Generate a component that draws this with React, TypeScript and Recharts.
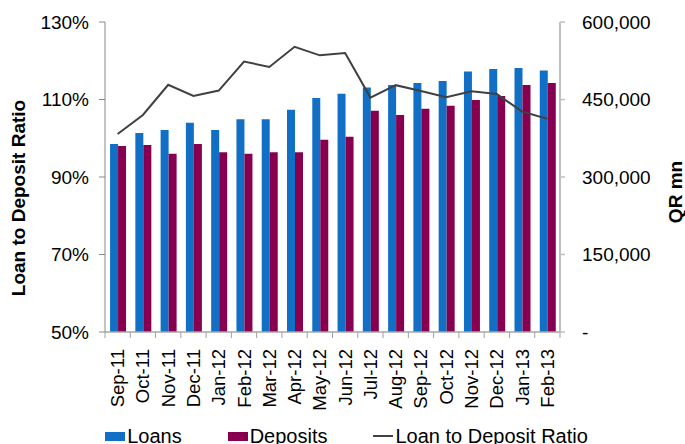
import React from "react";
import {
  ComposedChart,
  Bar,
  Line,
  XAxis,
  YAxis,
  Legend,
} from "recharts";

const months = [
  "Sep-11", "Oct-11", "Nov-11", "Dec-11", "Jan-12", "Feb-12", "Mar-12", "Apr-12", "May-12",
  "Jun-12", "Jul-12", "Aug-12", "Sep-12", "Oct-12", "Nov-12", "Dec-12", "Jan-13", "Feb-13",
];
// QR mn
const loans = [
  364000, 385000, 391000, 405000, 391000, 412000, 412000, 430000, 453000,
  461000, 473000, 478000, 482000, 486000, 504000, 509000, 511000, 506000,
];
const deposits = [
  360000, 362000, 345000, 364000, 348000, 345000, 348000, 348000, 372000,
  378000, 428000, 420000, 432000, 438000, 449000, 457000, 478000, 482000,
];
// %
const ratio = [
  101.1, 106.0, 113.8, 110.9, 112.3, 119.8, 118.4, 123.6, 121.4,
  122.0, 110.5, 113.7, 112.2, 110.6, 112.1, 111.4, 106.9, 105.0,
];
const ratioTicks = [50, 70, 90, 110, 130];
const amountTicks = [0, 150000, 300000, 450000, 600000];

const data = months.map((m, i) => ({
  month: m,
  loans: loans[i],
  deposits: deposits[i],
  ratio: ratio[i],
}));

const W = 685;
const H = 444;
const LEFT_W = 105;
const RIGHT_W = 125;
const PLOT_W = W - LEFT_W - RIGHT_W;
const FONT = "'Liberation Sans', Arial, sans-serif";

const BLUE = "#1170c6";
const MAROON = "#86004f";
const LINE = "#404040";

const XTick = (props: any) => {
  const { x, y, payload, index } = props;
  const step = PLOT_W / months.length;
  return (
    <g transform={`translate(${x},${y})`}>
      <line x1={-step / 2} x2={-step / 2} y1={0} y2={6} stroke="#a0a0a0" />
      {index === months.length - 1 && (
        <line x1={step / 2} x2={step / 2} y1={0} y2={6} stroke="#a0a0a0" />
      )}
      <text
        transform="translate(0,17) rotate(-90)"
        textAnchor="end"
        dy="0.35em"
        fontSize={18.5}
        fontFamily={FONT}
        fill="#000"
      >
        {payload.value}
      </text>
    </g>
  );
};

const LeftTitle = (props: any) => {
  const vb = props.viewBox;
  const x = vb.x + 18;
  const y = vb.y + vb.height / 2 + 21;
  return (
    <text
      x={x}
      y={y}
      dy="0.35em"
      textAnchor="middle"
      transform={`rotate(-90, ${x}, ${y})`}
      fontSize={19}
      fontWeight="bold"
      fontFamily={FONT}
      fill="#000"
    >
      Loan to Deposit Ratio
    </text>
  );
};

const RightTitle = (props: any) => {
  const vb = props.viewBox;
  const x = vb.x + 115;
  const y = vb.y + vb.height / 2 + 15;
  return (
    <text
      x={x}
      y={y}
      dy="0.35em"
      textAnchor="middle"
      transform={`rotate(-90, ${x}, ${y})`}
      fontSize={19}
      fontWeight="bold"
      fontFamily={FONT}
      fill="#000"
    >
      QR mn
    </text>
  );
};

const renderLegend = () => (
  <div
    style={{
      display: "flex",
      justifyContent: "center",
      alignItems: "center",
      paddingLeft: 8,
      fontFamily: FONT,
      fontSize: 20,
      lineHeight: "20px",
      color: "#000",
    }}
  >
    <span style={{ display: "flex", alignItems: "center", marginRight: 46 }}>
      <span style={{ width: 20, height: 9, background: BLUE, marginRight: 2 }} />
      Loans
    </span>
    <span style={{ display: "flex", alignItems: "center", marginRight: 46 }}>
      <span style={{ width: 20, height: 9, background: MAROON, marginRight: 2 }} />
      Deposits
    </span>
    <span style={{ display: "flex", alignItems: "center" }}>
      <span style={{ width: 20, height: 2, background: LINE, marginRight: 2 }} />
      Loan to Deposit Ratio
    </span>
  </div>
);

export default function App() {
  return (
    <div style={{ position: "absolute", left: 0, top: 0, background: "#fff" }}>
      <ComposedChart
        width={W}
        height={H}
        data={data}
        margin={{ top: 22, right: 0, left: 0, bottom: 0 }}
        barCategoryGap="20%"
        barGap={0}
      >
        <XAxis
          dataKey="month"
          interval={0}
          height={112}
          tickSize={0}
          tickMargin={0}
          tickLine={false}
          axisLine={{ stroke: "#a6a6a6", strokeWidth: 1.5 }}
          tick={<XTick />}
        />
        <YAxis
          yAxisId="left"
          orientation="left"
          width={LEFT_W}
          domain={[50, 130]}
          ticks={ratioTicks}
          tickFormatter={(v: number) => `${v}%`}
          tickSize={6}
          tickMargin={10}
          axisLine={{ stroke: "#888" }}
          tickLine={{ stroke: "#888" }}
          tick={{ fontSize: 19, fontFamily: FONT, fill: "#000" }}
          label={LeftTitle}
        />
        <YAxis
          yAxisId="right"
          orientation="right"
          width={RIGHT_W}
          domain={[0, 600000]}
          ticks={amountTicks}
          tickFormatter={(v: number) => (v === 0 ? "-" : v.toLocaleString("en-US"))}
          tickSize={5}
          tickMargin={17}
          axisLine={{ stroke: "#c0c0c0", strokeWidth: 2 }}
          tickLine={{ stroke: "#c0c0c0", strokeWidth: 1.5 }}
          tick={{ fontSize: 19, fontFamily: FONT, fill: "#000" }}
          label={RightTitle}
        />
        <Bar yAxisId="right" dataKey="loans" name="Loans" fill={BLUE} isAnimationActive={false} />
        <Bar yAxisId="right" dataKey="deposits" name="Deposits" fill={MAROON} isAnimationActive={false} />
        <Line
          yAxisId="left"
          type="linear"
          dataKey="ratio"
          name="Loan to Deposit Ratio"
          stroke={LINE}
          strokeWidth={2}
          dot={false}
          isAnimationActive={false}
        />
        <Legend
          layout="horizontal"
          verticalAlign="middle"
          align="center"
          wrapperStyle={{ top: 426, left: 0, width: W }}
          content={renderLegend}
        />
      </ComposedChart>
    </div>
  );
}
